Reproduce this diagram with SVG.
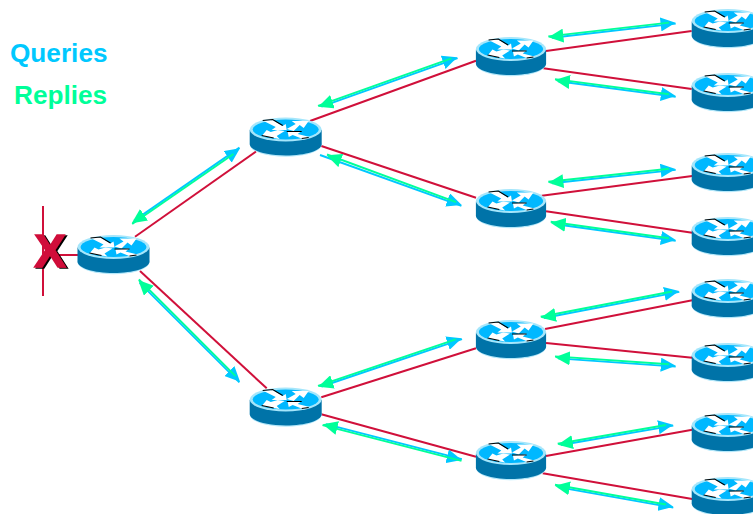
<svg xmlns="http://www.w3.org/2000/svg" xmlns:xlink="http://www.w3.org/1999/xlink" width="753" height="514" viewBox="0 0 753 514">
<style>
text{font-family:"Liberation Sans",Arial,sans-serif;font-weight:bold}
.lbl{font-size:26.2px}
.x{font-size:47px;text-anchor:middle;stroke:#d0103a;stroke-width:1.6}
.red{stroke:#d0103a;stroke-width:2;fill:none}
.q{stroke:#00c8ff;stroke-width:1.9;fill:none;marker-end:url(#hq)}
.r{stroke:#00ff99;stroke-width:1.9;fill:none;marker-end:url(#hr)}
.q.alt{marker-end:url(#hq2)}
.r.alt{marker-end:url(#hr2)}
.blk{fill:none;stroke:#000;stroke-width:1.2}
</style>
<defs>
<filter id="sh" x="-20%" y="-20%" width="150%" height="150%"><feDropShadow dx="2" dy="1" stdDeviation="0" flood-color="#000"/></filter>
<marker id="hq" markerUnits="userSpaceOnUse" viewBox="0 0 15 14" markerWidth="15" markerHeight="14" refX="15" refY="7.9" orient="auto"><path d="M0 0L15 7L0 14Z" fill="#00c8ff"/></marker>
<marker id="hr" markerUnits="userSpaceOnUse" viewBox="0 0 15 14" markerWidth="15" markerHeight="14" refX="15" refY="7.9" orient="auto"><path d="M0 0L15 7L0 14Z" fill="#00ff99"/></marker>
<marker id="hq2" markerUnits="userSpaceOnUse" viewBox="0 0 15 14" markerWidth="15" markerHeight="14" refX="15" refY="6.1" orient="auto"><path d="M0 0L15 7L0 14Z" fill="#00c8ff"/></marker>
<marker id="hr2" markerUnits="userSpaceOnUse" viewBox="0 0 15 14" markerWidth="15" markerHeight="14" refX="15" refY="6.1" orient="auto"><path d="M0 0L15 7L0 14Z" fill="#00ff99"/></marker>
<symbol id="router" overflow="visible">
<ellipse cx="0" cy="14.5" rx="36" ry="12.3" fill="#b5e8fa"/>
<path d="M-36 0V14C-36 20.5 -20 25.5 0 25.5S36 20.5 36 14V0Z" fill="#0073a8"/>
<ellipse cx="0" cy="-0.5" rx="36" ry="12" fill="#a5e6fb"/>
<ellipse cx="0" cy="-0.5" rx="33" ry="10" fill="#00b8ff"/>
<path d="M-22 -9L-13 -10L-3 -4L0 -6L1 0H-14L-10 -3Z" fill="#fff"/>
<path class="blk" d="M-23 -9.5L-13 -10.5L-3 -4.5"/>
<path d="M1 -1L10 -6L6 -9L23 -9L18 -2L14 -5L8 1Z" fill="#fff"/>
<path d="M-24 6L-19 0L-15 2L-8 0L-1 1L-9 6L-6 9Z" fill="#fff"/>
<path class="blk" d="M-24 5.5L-12 8"/>
<path d="M2 2L16 1L12 4L24 7L17 9L7 5L3 7Z" fill="#fff"/>
<path class="blk" d="M1 1.5H16M16 8.5L23 7.5"/>
</symbol>
</defs>
<rect width="753" height="514" fill="#fff"/>
<g id="connectors">
<path class="red" d="M43 206V296M56 255H78"/>
<path class="red" d="M135 236.7L256 151.5"/>
<path class="red" d="M140 271L266.7 388.3"/>
<path class="red" d="M310 121L476 60.7"/>
<path class="red" d="M321.3 146L476 197.7"/>
<path class="red" d="M321.3 397.3L476 348.3"/>
<path class="red" d="M321.3 414.3L476 456.7"/>
<path class="red" d="M546 51L691.7 31"/>
<path class="red" d="M543.3 68.3L691.7 89"/>
<path class="red" d="M541.7 195.7L692.3 176"/>
<path class="red" d="M546 211.3L692.3 232.7"/>
<path class="red" d="M545 329L692.3 300.3"/>
<path class="red" d="M546 343L692.3 357.7"/>
<path class="red" d="M546 456L692.3 429.7"/>
<path class="red" d="M542.7 473.3L692.3 499"/>

<path class="q alt" d="M134.2 220.6L239.5 147.6"/><path class="r alt" d="M233.5 154L132.2 224"/>
<path class="q" d="M139.7 282.8L239.4 382.3"/><path class="r" d="M235.6 376.1L138.9 279.4"/>
<path class="q" d="M321.4 106.55L457.6 58.15"/><path class="r" d="M451.4 58.45L318 105.85"/>
<path class="q" d="M320 155L461.4 205.85"/><path class="r" d="M456.1 202.2L327 154.5"/>
<path class="q" d="M321.5 386.5L462 339.15"/><path class="r" d="M455.7 339.35L318 385.85"/>
<path class="q alt" d="M326 424.2L461.9 459.1"/><path class="r alt" d="M461.5 460.9L322.5 425.2"/>

<path class="q" d="M552 37.8L675.7 23.6"/><path class="r" d="M669 22.6L548.3 36.4"/>
<path class="q" d="M558 81.3L675.7 96.9"/><path class="r" d="M669 94.2L555 79.1"/>
<path class="q" d="M552 183.2L675.7 169.9"/><path class="r" d="M669 168.8L548.3 181.8"/>
<path class="q" d="M554 224L675.7 240.9"/><path class="r" d="M669 238.2L550.7 221.8"/>
<path class="q" d="M544 318L679.3 291.9"/><path class="r" d="M672 291.5L540.7 316.8"/>
<path class="q" d="M558 358.4L675.7 366.6"/><path class="r" d="M669 364.3L555 356.4"/>
<path class="q" d="M561 445L673.3 425.6"/><path class="r" d="M666 425L557.7 443.8"/>
<path class="q" d="M558 487.1L673.3 507.6"/><path class="r" d="M666 504.5L555 484.8"/>
</g>
<g id="x-mark"><text class="x" x="50" y="267" fill="#d0103a" filter="url(#sh)">X</text></g>
<g id="router-0"><use xlink:href="#router" href="#router" x="113.5" y="247.5"/></g>
<g id="router-1"><use xlink:href="#router" href="#router" x="285.7" y="130"/></g>
<g id="router-2"><use xlink:href="#router" href="#router" x="285.7" y="400"/></g>
<g id="router-3"><use xlink:href="#router" href="#router" transform="translate(511 49.5) scale(.975 1)"/></g>
<g id="router-4"><use xlink:href="#router" href="#router" transform="translate(511 201.5) scale(.975 1)"/></g>
<g id="router-5"><use xlink:href="#router" href="#router" transform="translate(511 332.5) scale(.975 1)"/></g>
<g id="router-6"><use xlink:href="#router" href="#router" transform="translate(511 453.5) scale(.975 1)"/></g>
<g id="leaf-1"><use xlink:href="#router" href="#router" x="727.7" y="21.5"/></g>
<g id="leaf-2"><use xlink:href="#router" href="#router" x="727.7" y="85.5"/></g>
<g id="leaf-3"><use xlink:href="#router" href="#router" x="727.7" y="165.5"/></g>
<g id="leaf-4"><use xlink:href="#router" href="#router" x="727.7" y="229.5"/></g>
<g id="leaf-5"><use xlink:href="#router" href="#router" x="727.7" y="291.5"/></g>
<g id="leaf-6"><use xlink:href="#router" href="#router" x="727.7" y="355.5"/></g>
<g id="leaf-7"><use xlink:href="#router" href="#router" x="727.7" y="425.5"/></g>
<g id="leaf-8"><use xlink:href="#router" href="#router" x="727.7" y="489.5"/></g>
<text class="lbl" x="10" y="62" fill="#00c8ff">Queries</text>
<text class="lbl" x="14" y="104" fill="#00ff99">Replies</text>
</svg>
